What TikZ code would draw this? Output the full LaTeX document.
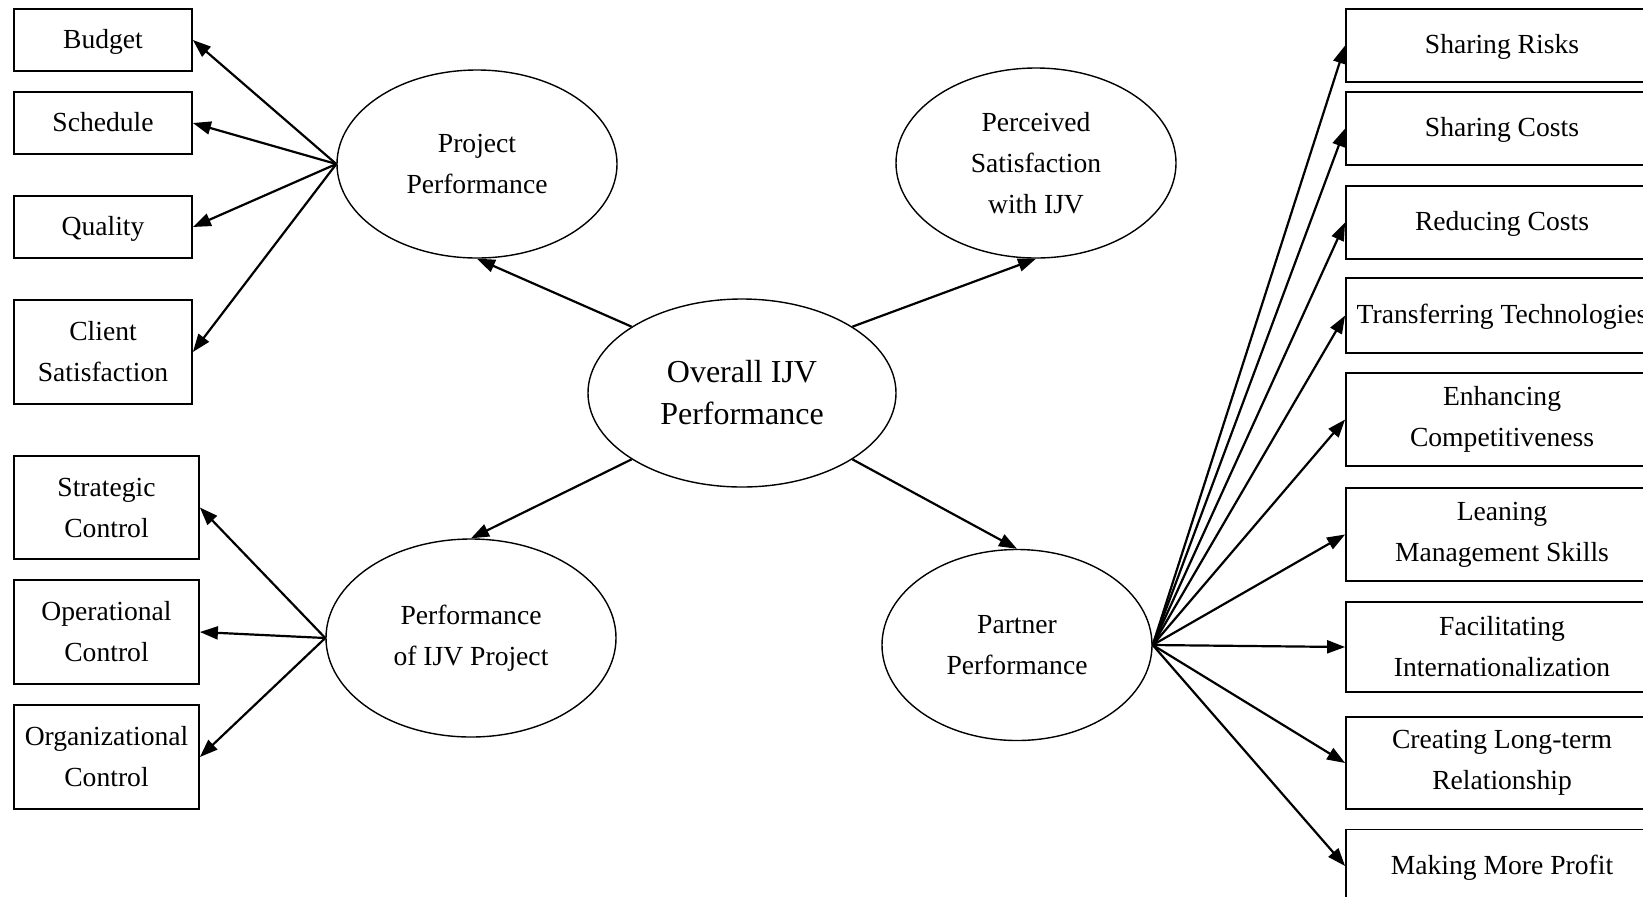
\documentclass[tikz,border=0pt]{standalone}
\usepackage{fontspec}
\setmainfont{Liberation Serif}
\usetikzlibrary{shapes.geometric,arrows.meta}

\begin{document}
\begin{tikzpicture}[x=0.5pt,y=-0.5pt,
  box/.style={draw,line width=0.9pt,inner sep=0pt,align=center,font=\fontsize{13.8}{20.5}\selectfont},
  oneline/.style={text height=10pt,text depth=2pt},
  oval/.style={draw,ellipse,line width=0.7pt,inner sep=0pt,align=center,font=\fontsize{13.8}{20.5}\selectfont},
  link/.style={line width=1.1pt,-{Triangle[length=9pt,width=6.5pt]}}]
\useasboundingbox (0,0) rectangle (1643,896);
\clip (0,0) rectangle (1643,896);

% ellipses
\node[oval,minimum width=154pt,minimum height=94pt,font=\fontsize{16}{21}\selectfont] (overall) at (742,393) {Overall IJV\\Performance};
\node[oval,minimum width=140pt,minimum height=94pt] (project) at (477,164) {Project\\Performance};
\node[oval,minimum width=140pt,minimum height=95pt] (satisf) at (1036,163) {Perceived\\Satisfaction\\with IJV};
\node[oval,minimum width=145pt,minimum height=99pt] (ijvproj) at (471,638) {Performance\\of IJV Project};
\node[oval,minimum width=135pt,minimum height=95.5pt] (partner) at (1017,645) {Partner\\Performance};

% left boxes
\node[box,oneline,minimum width=89pt,minimum height=31pt] (budget) at (103,40) {Budget};
\node[box,oneline,minimum width=89pt,minimum height=31pt] (sched) at (103,123) {Schedule};
\node[box,oneline,minimum width=89pt,minimum height=31pt] (quality) at (103,227) {Quality};
\node[box,minimum width=89pt,minimum height=52pt] (client) at (103,352) {Client\\Satisfaction};
\node[box,minimum width=92.5pt,minimum height=51.5pt] (strat) at (106.5,507.5) {Strategic\\Control};
\node[box,minimum width=92.5pt,minimum height=52pt] (oper) at (106.5,632) {Operational\\Control};
\node[box,minimum width=92.5pt,minimum height=52pt] (organ) at (106.5,757) {Organizational\\Control};

% right boxes
\node[box,oneline,minimum width=156pt,minimum height=36.5pt] (risk) at (1502,45.5) {Sharing Risks};
\node[box,oneline,minimum width=156pt,minimum height=36.5pt] (cost) at (1502,128.5) {Sharing Costs};
\node[box,oneline,minimum width=156pt,minimum height=36.5pt] (reduce) at (1502,222.5) {Reducing Costs};
\node[box,oneline,minimum width=156pt,minimum height=37.5pt] (tech) at (1502,315.5) {Transferring Technologies};
\node[box,minimum width=156pt,minimum height=46.5pt] (compet) at (1502,419.5) {Enhancing\\Competitiveness};
\node[box,minimum width=156pt,minimum height=46.5pt] (skill) at (1502,534.5) {Leaning\\Management Skills};
\node[box,minimum width=156pt,minimum height=45pt] (intl) at (1502,647) {Facilitating\\Internationalization};
\node[box,minimum width=156pt,minimum height=46pt] (relat) at (1502,763) {Creating Long-term\\Relationship};
\node[box,oneline,minimum width=156pt,minimum height=36.5pt] (profit) at (1502,866) {Making More Profit};

% connectors
\draw[link] (overall.149) -- (project.south);
\draw[link] (overall.31) -- (satisf.south);
\draw[link] (overall.211) -- (ijvproj.north);
\draw[link] (overall.329) -- (partner.north);

\draw[link] (project.west) -- (budget.east);
\draw[link] (project.west) -- (sched.east);
\draw[link] (project.west) -- (quality.east);
\draw[link] (project.west) -- (client.east);

\draw[link] (ijvproj.west) -- (strat.east);
\draw[link] (ijvproj.west) -- (oper.east);
\draw[link] (ijvproj.west) -- (organ.east);

\draw[link] (partner.east) -- (risk.west);
\draw[link] (partner.east) -- (cost.west);
\draw[link] (partner.east) -- (reduce.west);
\draw[link] (partner.east) -- (tech.west);
\draw[link] (partner.east) -- (compet.west);
\draw[link] (partner.east) -- (skill.west);
\draw[link] (partner.east) -- (intl.west);
\draw[link] (partner.east) -- (relat.west);
\draw[link] (partner.east) -- (profit.west);
\end{tikzpicture}
\end{document}
